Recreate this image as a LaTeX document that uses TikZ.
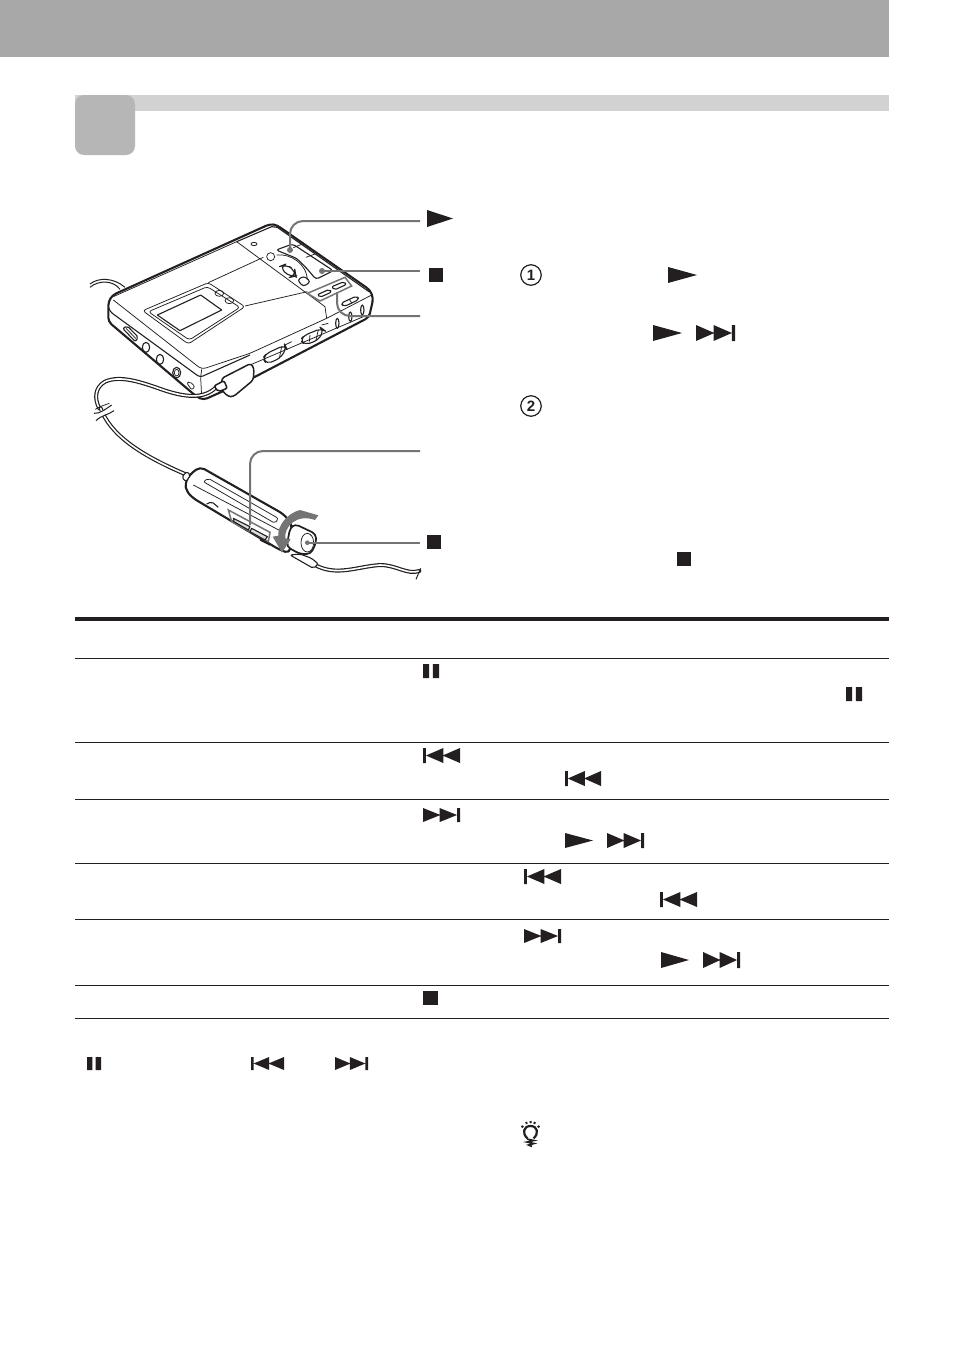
\documentclass[tikz,border=0pt]{standalone}
\usepackage{fontspec}
\setmainfont{Liberation Sans}
\definecolor{hdr}{HTML}{A9A8A8}
\definecolor{band}{HTML}{D2D2D2}
\definecolor{badge}{HTML}{B7B6B6}
\definecolor{lead}{HTML}{747474}
\definecolor{ink}{HTML}{231F20}
\newcommand{\iplay}[4]{\fill[ink] (#1,#2) -- (#3,{(#2+#4)/2}) -- (#1,#4) -- cycle;}
\newcommand{\istop}[4]{\fill[ink] (#1,#2) rectangle (#3,#4);}
\newcommand{\ipause}[4]{\fill[ink] (#1,#2) rectangle ({#1+(#3-#1)*0.38},#4) ({#1+(#3-#1)*0.62},#2) rectangle (#3,#4);}
\newcommand{\inext}[4]{\fill[ink] (#1,#2) -- ({#1+(#3-#1)*0.47},{(#2+#4)/2}) -- (#1,#4) -- cycle
 ({#1+(#3-#1)*0.45},#2) -- ({#1+(#3-#1)*0.92},{(#2+#4)/2}) -- ({#1+(#3-#1)*0.45},#4) -- cycle
 ({#1+(#3-#1)*0.92},#2) rectangle (#3,#4);}
\newcommand{\iprev}[4]{\fill[ink] (#3,#2) -- ({#3-(#3-#1)*0.47},{(#2+#4)/2}) -- (#3,#4) -- cycle
 ({#3-(#3-#1)*0.45},#2) -- ({#3-(#3-#1)*0.92},{(#2+#4)/2}) -- ({#3-(#3-#1)*0.45},#4) -- cycle
 ({#3-(#3-#1)*0.92},#2) rectangle (#1,#4);}
\tikzset{
 dev/.style={draw=ink,line width=1.1pt,line join=round},
 devb/.style={draw=ink,line width=2.1pt,line join=round},
 thin part/.style={draw=ink,line width=0.75pt,line join=round},
 leader/.style={draw=lead,line width=2pt,rounded corners=13pt},
 rule/.style={draw=ink,line width=0.8pt},
 cablea/.style={draw=ink,line width=4pt,line cap=round},
 cableb/.style={draw=white,line width=1.6pt,line cap=round},
 numc/.style={circle,draw=ink,line width=1.2pt,minimum size=20.5pt,inner sep=0pt,font=\bfseries\fontsize{15}{15}\selectfont,text=ink},
}
\begin{document}
\begin{tikzpicture}[x=1pt,y=-1pt]
\useasboundingbox (0,0) rectangle (954,1358);
\fill[white] (0,0) rectangle (954,1358);
% header
\fill[hdr] (0,0) rectangle (889,57);
\fill[band] (75,95) rectangle (889,111);
\fill[badge,rounded corners=9pt] (75,95) rectangle (135,155);

% MD unit (coordinates of the first zoom)
\begin{scope}[shift={(70,200)},x=0.33333pt,y=-0.33333pt]
 % rear cord
 \path[thin part,line width=1pt] (60,262) .. controls (85,240) and (130,240) .. (150,268);
 \path[thin part,line width=1pt] (60,252) .. controls (85,232) and (130,232) .. (165,262);
 % body outline
 \filldraw[fill=white,devb,rounded corners=4pt] (115,305) -- (128,285) -- (600,72) -- (620,75) -- (900,270) -- (910,295) -- (897,352) -- (552,532) -- (400,600) -- (380,590) -- (115,365) -- cycle;
 % front and side faces
 \path[dev,rounded corners=3pt] (116,322) -- (120,335) -- (390,532) -- (540,465);
 \path[thin part,rounded corners=4pt] (130,300) -- (395,508) -- (540,460) -- (770,355);
 \path[thin part] (395,508) -- (392,532);
 \path[thin part] (392,532) -- (395,590);
 \path[thin part] (770,355) -- (905,285);
 \path[thin part] (540,495) -- (880,350);
 % top cover
 \path[dev] (500,125) -- (605,80) -- (622,82) -- (897,275);
 \path[thin part] (500,125) -- (765,320) -- (770,355);
 \path[thin part] (130,290) -- (500,125);
 \path[thin part] (415,248) -- (580,172);
 \path[thin part] (525,318) -- (712,275);
 % display
 \path[thin part,rounded corners=3pt] (218,332) -- (415,248) -- (525,320) -- (355,432) -- cycle;
 \path[thin part,rounded corners=3pt] (235,335) -- (412,260) -- (510,322) -- (358,420) -- cycle;
 \path[dev] (262,345) -- (392,285) -- (455,330) -- (330,392) -- cycle;
 \draw[thin part] (448,280) ellipse (13 and 9);
 \draw[thin part] (478,302) ellipse (13 and 9);
 % panel
 \draw[thin part] (552,132) ellipse (9 and 5);
 \draw[thin part] (602,170) circle (12);
 \path[dev,rounded corners=3pt] (618,150) -- (668,132) -- (790,212) -- (738,238) -- (710,205) -- (680,175) -- cycle;
 \path[thin part] (670,143) -- (702,130);
 \path[thin part] (708,172) -- (735,162);
 \path[thin part] (620,165) .. controls (660,160) and (710,190) .. (712,240);
 \path[dev,rounded corners=7pt] (628,200) -- (648,192) -- (675,212) -- (678,228) -- (660,232) -- cycle;
 \path[dev,rounded corners=3pt] (682,240) -- (702,228) -- (722,245) -- (700,260) -- cycle;
 % grey frame round the two buttons
 \path[draw=lead,line width=1.5pt] (712,280) -- (825,232) -- (845,258) -- (750,303) -- cycle;
 \path[dev,rounded corners=2pt] (742,284) -- (778,268) -- (785,276) -- (750,292) -- cycle;
 \path[dev,rounded corners=2pt] (785,260) -- (822,245) -- (830,253) -- (793,270) -- cycle;
 % right-side controls
 \path[dev,rounded corners=3pt] (812,310) -- (860,288) -- (868,298) -- (822,320) -- cycle;
 \path[thin part] (838,298) -- (846,310);
 \draw[dev] (841,350) ellipse (5 and 14);
 \draw[dev] (877,330) ellipse (5 and 15);
 \draw[dev] (802,370) ellipse (5 and 15);
 \path[dev,rounded corners=5pt] (690,420) -- (705,405) -- (755,385) -- (762,390) -- (745,420) -- (705,435) -- cycle;
 \path[thin part] (720,405) -- (718,425);
 \path[thin part] (745,390) -- (738,420);
 \path[thin part] (755,375) -- (775,370);
 \path[dev,rounded corners=5pt] (578,475) -- (590,460) -- (645,435) -- (650,445) -- (630,475) -- (590,492) -- cycle;
 \path[thin part] (635,440) -- (628,475);
 \path[thin part] (645,435) -- (665,425);
 % left-side controls
 \path[dev,rounded corners=2pt] (158,385) -- (172,378) -- (205,412) -- (196,425) -- cycle;
 \path[thin part] (168,385) -- (198,416);
 \draw[dev] (228,442) ellipse (11 and 15);
 \draw[dev] (270,478) ellipse (11 and 15);
 \draw[dev] (320,518) ellipse (12 and 16);
 \draw[thin part] (320,518) ellipse (7 and 10);
 \path[thin part,rounded corners=2pt] (350,548) -- (360,545) -- (375,560) -- (365,570) -- cycle;
 % cable to plug
 \path[cablea] (438,562) .. controls (400,600) and (340,590) .. (280,570) .. controls (210,545) and (150,525) .. (105,545) .. controls (75,562) and (72,595) .. (88,625);
 \path[cableb] (438,562) .. controls (400,600) and (340,590) .. (280,570) .. controls (210,545) and (150,525) .. (105,545) .. controls (75,562) and (72,595) .. (88,625);
 \path[thin part] (76,628) -- (90,620) -- (118,610);
 % plug
 \filldraw[fill=white,dev,line width=1.5pt,rounded corners=3pt] (455,535) -- (543,490) -- (552,505) -- (550,540) -- (490,590) -- (475,590) -- (455,570) -- cycle;
 \filldraw[fill=white,dev,line width=1.5pt,rounded corners=2pt] (432,558) -- (462,542) -- (472,565) -- (445,575) -- cycle;
\end{scope}

% remote (coordinates of the second zoom)
\begin{scope}[shift={(70,370)},x=0.33333pt,y=-0.33333pt]
 \path[cablea] (92,115) .. controls (120,190) and (200,250) .. (345,312);
 \path[cableb] (92,115) .. controls (120,190) and (200,250) .. (345,312);
 \fill[white] (78,128) -- (125,110) -- (130,122) -- (82,146) -- cycle;
 \path[thin part,line width=1pt] (72,130) .. controls (90,132) and (110,115) .. (125,105);
 \path[thin part,line width=1pt] (78,152) .. controls (95,135) and (115,135) .. (132,122);
 % cord after the knob
 \path[cablea] (735,585) .. controls (800,620) and (860,590) .. (930,585) .. controls (980,585) and (1010,615) .. (1048,603);
 \path[cableb] (735,585) .. controls (800,620) and (860,590) .. (930,585) .. controls (980,585) and (1010,615) .. (1048,603);
 \path[thin part,line width=1pt] (1052,595) -- (1038,628);
 \filldraw[fill=white,dev,rounded corners=2pt] (690,552) -- (725,565) -- (745,582) -- (730,595) -- (660,555) -- cycle;
 % body
 \filldraw[fill=white,devb,rounded corners=5pt] (345,340) -- (358,315) -- (390,290) -- (640,432) -- (665,460) -- (660,550) -- (630,540) -- (370,385) -- (350,365) -- cycle;
 \filldraw[fill=white,dev,rounded corners=2pt] (335,322) -- (350,305) -- (362,315) -- (348,335) -- cycle;
 \path[thin part,rounded corners=2pt] (400,335) -- (415,325) -- (625,445) -- (615,460) -- cycle;
 \path[thin part] (370,345) -- (630,482);
 \path[dev,rounded corners=2pt] (410,402) -- (425,395) -- (445,412);
 % side button
 \path[draw=lead,line width=1.5pt] (475,420) -- (600,487) -- (595,515) -- (485,455) -- cycle;
 \path[dev,fill=ink!15] (490,445) -- (540,470) -- (535,480) -- (492,455) -- cycle;
 \path[dev,fill=ink!15] (545,475) -- (592,500) -- (585,510) -- (540,485) -- cycle;
 \fill[ink] (570,505) -- (600,520) -- (600,527) -- (570,512) -- cycle;
 % knob
 \filldraw[fill=white,devb,line width=1.7pt,rounded corners=4pt] (660,475) -- (675,462) -- (738,492) -- (738,520) -- (722,552) -- (690,552) -- (650,530) -- cycle;
 \filldraw[fill=white,thin part] (712,518) ellipse (19 and 28);
 \fill[lead] (712,518) circle (7);
 % grey rotation arrow
 \fill[lead] (745,436) -- (690,420) .. controls (650,430) and (622,470) .. (625,497) -- (608,500) -- (636,548) -- (662,508) -- (646,505) .. controls (642,470) and (680,430) .. (735,450) -- cycle;
\end{scope}

% leader ends
\coordinate (p1) at (290,250);
\coordinate (p2) at (322,271);
\coordinate (p3) at (337,292);
\coordinate (p4) at (250,525);
\coordinate (p5) at (308,543);
\coordinate (t1) at (420,221);
\coordinate (t2) at (420,271);
\coordinate (t3) at (420,316);
\coordinate (t4) at (420,451);
\coordinate (t5) at (420,543);
\fill[lead] (p1) circle (3);
\fill[lead] (p2) circle (3);
\draw[leader] (t1) -- (290,221) -- (p1);
\draw[leader] (t2) -- (p2);
\draw[leader] (t3) -- (337,316) -- (p3);
\draw[leader] (t4) -- (250,451) -- (p4);
\draw[leader] (t5) -- (p5);

% control icons by the diagram
\iplay{427}{210}{453}{227}
\istop{429}{268}{443}{282}
\istop{427}{535}{441}{549}

% steps
\node[numc] (n1) at (531,275) {1};
\node[numc] (n2) at (531,406) {2};
\iplay{668}{267}{697}{283}
\iplay{653}{325}{682}{341}
\inext{696}{325}{735}{341}
\istop{677}{552}{691}{566}

% table
\draw[ink,line width=4pt] (75,618.5) -- (889,618.5);
\foreach \yy in {658.5,742.5,799.5,863.5,919.5,985.5,1018.5}
  \draw[rule] (75,\yy) -- (889,\yy);
\ipause{423}{664}{439}{678}
\ipause{846}{687}{862}{701}
\iprev{423}{748}{460}{763}
\iprev{565}{771}{601}{786}
\inext{423}{808}{460}{822}
\iplay{565}{833}{593}{848}
\inext{607}{833}{644}{848}
\iprev{524}{869}{561}{884}
\iprev{660}{892}{697}{907}
\inext{524}{929}{561}{943}
\iplay{661}{952}{689}{968}
\inext{703}{952}{740}{968}
\istop{423}{991}{438}{1005}

% note icons
\ipause{87}{1057}{101}{1070}
\iprev{251}{1057}{284}{1070}
\inext{335}{1057}{368}{1070}

% tip bulb
\begin{scope}[shift={(530.5,1132)}]
 \draw[ink,line width=2.2pt] (-3,6.3) .. controls (-8.5,2) and (-7.5,-6) .. (0,-6) .. controls (7.5,-6) and (8.5,2) .. (3,6.3);
 \draw[ink,line width=1.6pt] (-3.5,7) -- (3.5,8.5) -- (-3.5,10) -- (3.5,11.5) -- (-2,13) -- (1.5,14.5);
 \draw[ink,line width=2pt] (0,-11) -- (0,-9) (-4.5,-10) -- (-3.6,-8.2) (4.5,-10) -- (3.6,-8.2) (-9,-6) -- (-7.2,-4.8) (9,-6) -- (7.2,-4.8);
\end{scope}
\end{tikzpicture}
\end{document}
